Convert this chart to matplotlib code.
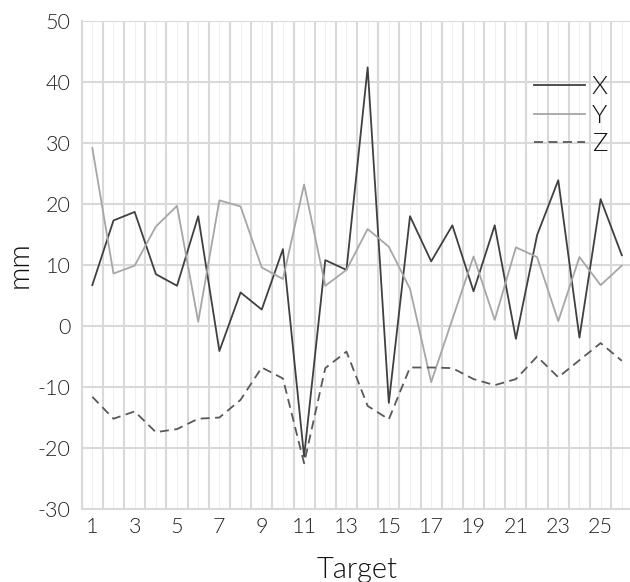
import numpy as np
import matplotlib
matplotlib.use('Agg')
from matplotlib import pyplot as plt

plt.rcParams['font.family'] = ['Lato', 'DejaVu Sans']
plt.rcParams['font.weight'] = 300

# data
targets = list(range(1, 27))
x_vals = [6.7, 17.3, 18.7, 8.5, 6.6, 18.0, -4.1, 5.5, 2.7, 12.6, -21.4, 10.8, 9.2,
          42.4, -12.6, 18.0, 10.6, 16.5, 5.7, 16.5, -2.1, 14.9, 23.9, -1.9, 20.8, 11.6]
y_vals = [29.2, 8.6, 9.9, 16.3, 19.7, 0.7, 20.6, 19.6, 9.6, 7.7, 23.2, 6.6, 9.2,
          15.9, 13.0, 6.1, -9.2, 1.1, 11.4, 1.0, 12.9, 11.3, 0.8, 11.3, 6.7, 9.9]
z_vals = [-11.6, -15.2, -14.0, -17.4, -16.9, -15.2, -15.0, -12.1, -6.8, -8.6, -22.5, -6.9, -4.2,
          -13.1, -15.3, -6.8, -6.8, -6.9, -8.7, -9.7, -8.7, -5.0, -8.4, -5.6, -2.8, -5.7]
y_ticks = [-30, -20, -10, 0, 10, 20, 30, 40, 50]

fig = plt.figure(figsize=(6.3, 5.82), dpi=100)
ax = fig.add_axes([0.1297, 0.1254, 0.8741, 0.8385])

ax.plot(targets, x_vals, color='#404040', lw=1.3, label='X')
ax.plot(targets, y_vals, color='#a6a6a6', lw=1.3, label='Y')
ax.plot(targets, z_vals, color='#595959', lw=1.3, ls=(0, (5, 3)), label='Z')

ax.set_xlim(0.5, 26.5)
ax.set_ylim(-30, 50)

# centres: faint lines, boundaries: stronger lines
ax.set_xticks(targets)
ax.set_xticklabels([str(t) if t % 2 == 1 else '' for t in targets])
ax.set_xticks(np.arange(0.5, 27, 1), minor=True)
ax.set_yticks(y_ticks)
ax.set_yticklabels([str(v) for v in y_ticks])

ax.grid(True, which='major', axis='x', color='#efefef', lw=0.8)
ax.grid(True, which='minor', axis='x', color='#d9d9d9', lw=1.5)
ax.grid(True, which='major', axis='y', color='#d9d9d9', lw=1.5)
ax.set_axisbelow(True)

ax.tick_params(which='both', length=0)
ax.tick_params(axis='x', pad=6, labelsize=15.5, labelcolor='#222222')
ax.tick_params(axis='y', pad=8, labelsize=15.5, labelcolor='#222222')

for s in ['top', 'right']:
    ax.spines[s].set_visible(False)
for s in ['left', 'bottom']:
    ax.spines[s].set_color('#d9d9d9')
    ax.spines[s].set_linewidth(1.5)

ax.set_xlabel('Target', fontsize=21, fontweight=300, color='#111111', labelpad=14)
ax.set_ylabel('mm', fontsize=21, fontweight=300, color='#111111', labelpad=4)

leg = ax.legend(loc='upper left', bbox_to_anchor=(0.821, 0.889), frameon=False,
                fontsize=18.5, handlelength=2.0, handletextpad=0.25, labelspacing=0.18,
                borderpad=0, borderaxespad=0)
for t in leg.get_texts():
    t.set_color('#111111')

fig.savefig('out.png', dpi=100)
